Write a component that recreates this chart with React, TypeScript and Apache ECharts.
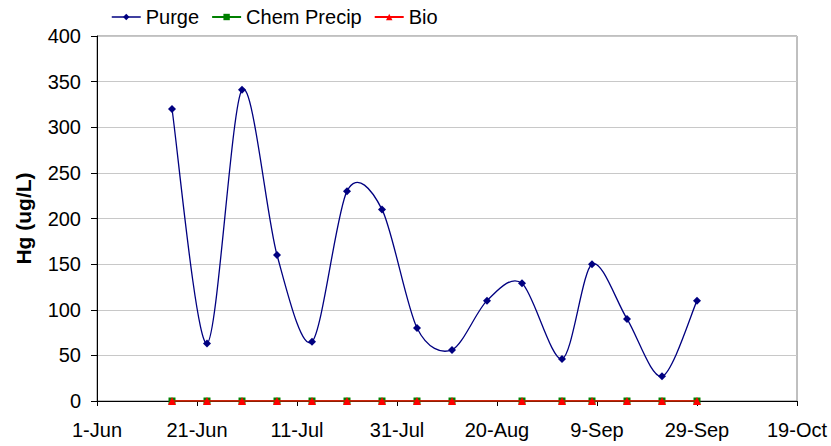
import React, { useEffect, useRef } from "react";
import * as echarts from "echarts";

const startDate = "2005-06-01";
const sampleDates = [
  "2005-06-16", "2005-06-23", "2005-06-30", "2005-07-07", "2005-07-14",
  "2005-07-21", "2005-07-28", "2005-08-04", "2005-08-11", "2005-08-18",
  "2005-08-25", "2005-09-02", "2005-09-08", "2005-09-15", "2005-09-22",
  "2005-09-29",
];
const purge = [320, 63, 341, 160, 65, 230, 210, 80, 56, 110, 129, 46, 150, 90, 27, 110];

const zeroDates = [
  "2005-06-16", "2005-06-23", "2005-06-30", "2005-07-07", "2005-07-14",
  "2005-07-21", "2005-07-28", "2005-08-04", "2005-08-11",
  "2005-08-25", "2005-09-02", "2005-09-08", "2005-09-15", "2005-09-22",
  "2005-09-29",
];
const chemPrecip = [0, 0, 0, 0, 0, 0, 0, 0, 0, 0, 0, 0, 0, 0, 0];
const bio = [0, 0, 0, 0, 0, 0, 0, 0, 0, 0, 0, 0, 0, 0, 0];

const MONTHS = ["Jan", "Feb", "Mar", "Apr", "May", "Jun", "Jul", "Aug", "Sep", "Oct", "Nov", "Dec"];
const DAY = 86400000;
const t0 = Date.parse(startDate + "T00:00:00Z");
const toDay = (s: string) => Math.round((Date.parse(s + "T00:00:00Z") - t0) / DAY);
const fmtDay = (d: number) => {
  const dt = new Date(t0 + d * DAY);
  return dt.getUTCDate() + "-" + MONTHS[dt.getUTCMonth()];
};

const FONT = "Liberation Sans, Arial, sans-serif";
const NAVY = "#000080";

export default function App() {
  const ref = useRef<HTMLDivElement>(null);
  useEffect(() => {
    if (!ref.current) return;
    const chart = echarts.init(ref.current, undefined, { renderer: "svg" });
    const purgeData = sampleDates.map((d, i) => [toDay(d), purge[i]]);
    const n = purgeData.length;

    chart.setOption({
      animation: false,
      textStyle: { fontFamily: FONT },
      legend: {
        top: 2,
        left: 106,
        itemWidth: 29,
        itemHeight: 8,
        itemGap: 12,
        textStyle: { fontSize: 20, color: "#000", fontFamily: FONT },
        data: [
          { name: "Purge", lineStyle: { color: NAVY, width: 1.5, opacity: 1 } },
          "Chem Precip",
          "Bio",
        ],
      },
      grid: {
        left: 97,
        right: 34,
        top: 36,
        bottom: 45,
        show: true,
        borderColor: "#808080",
        borderWidth: 1,
      },
      xAxis: {
        type: "value",
        min: 0,
        max: 140,
        interval: 20,
        axisLine: { show: true, onZero: false, lineStyle: { color: "#000", width: 1 } },
        axisTick: { show: true, length: 5, lineStyle: { color: "#000" } },
        axisLabel: {
          fontSize: 20,
          color: "#000",
          margin: 19,
          fontFamily: FONT,
          formatter: (v: number) => fmtDay(v),
        },
        splitLine: { show: false },
      },
      yAxis: {
        type: "value",
        min: 0,
        max: 400,
        interval: 50,
        name: "Hg (ug/L)",
        nameLocation: "middle",
        nameGap: 63,
        nameTextStyle: { fontSize: 21, fontWeight: "bold", color: "#000", fontFamily: FONT },
        axisLine: { show: true, lineStyle: { color: "#000", width: 1 } },
        axisTick: { show: true, length: 6, lineStyle: { color: "#000" } },
        axisLabel: { fontSize: 20, color: "#000", margin: 16, fontFamily: FONT },
        splitLine: { show: true, lineStyle: { color: "#c8c8c8", width: 1 } },
      },
      series: [
        {
          name: "Purge curve",
          type: "custom",
          data: purgeData,
          z: 3,
          silent: true,
          renderItem: (params: any, api: any) => {
            const i = params.dataIndex;
            if (i >= n - 1) return null;
            const P = (k: number) => {
              const kk = Math.max(0, Math.min(n - 1, k));
              return api.coord(purgeData[kk]);
            };
            const p0 = P(i - 1), p1 = P(i), p2 = P(i + 1), p3 = P(i + 2);
            const t = 0.15;
            return {
              type: "bezierCurve",
              shape: {
                x1: p1[0], y1: p1[1],
                cpx1: p1[0] + (p2[0] - p0[0]) * t,
                cpy1: p1[1] + (p2[1] - p0[1]) * t,
                cpx2: p2[0] - (p3[0] - p1[0]) * t,
                cpy2: p2[1] - (p3[1] - p1[1]) * t,
                x2: p2[0], y2: p2[1],
              },
              style: { stroke: NAVY, lineWidth: 1.3, fill: "none" },
            };
          },
        },
        {
          name: "Purge",
          type: "line",
          data: purgeData,
          symbol: "diamond",
          symbolSize: 8,
          lineStyle: { color: NAVY, width: 1.5, opacity: 0 },
          itemStyle: { color: NAVY },
          z: 4,
        },
        {
          name: "Chem Precip",
          type: "line",
          data: zeroDates.map((d, i) => [toDay(d), chemPrecip[i]]),
          symbol: "rect",
          symbolSize: 7,
          lineStyle: { color: "#008000", width: 1.5 },
          itemStyle: { color: "#008000" },
          z: 2,
        },
        {
          name: "Bio",
          type: "line",
          data: zeroDates.map((d, i) => [toDay(d), bio[i]]),
          symbol: "triangle",
          symbolSize: 8,
          lineStyle: { color: "#ff0000", width: 1.5 },
          itemStyle: { color: "#ff0000" },
          z: 3,
        },
      ],
    });
    return () => chart.dispose();
  }, []);
  return (
    <div
      ref={ref}
      style={{ position: "absolute", left: 0, top: 0, width: 831, height: 446 }}
    />
  );
}
